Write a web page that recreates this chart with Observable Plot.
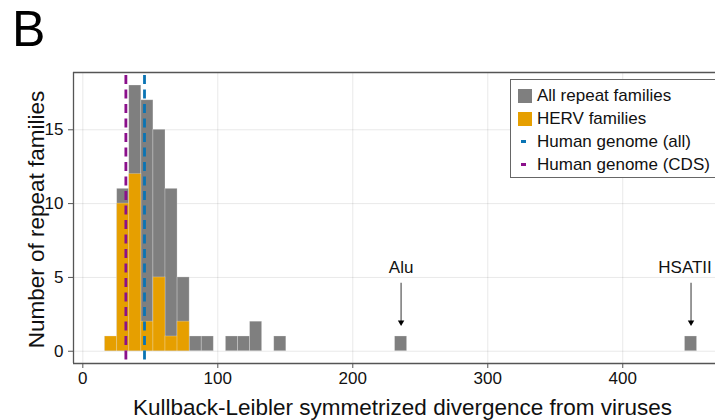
<!DOCTYPE html>
<html>
<head>
<meta charset="utf-8">
<script src="https://cdn.jsdelivr.net/npm/d3@7"></script>
<script src="https://cdn.jsdelivr.net/npm/@observablehq/plot@0.6"></script>
<style>
  html, body { margin: 0; padding: 0; background: #fff; overflow: hidden; }
  #wrap { position: relative; width: 715px; height: 420px; font-family: "Liberation Sans", Arial, sans-serif; }
  #panel { position: absolute; left: 12px; top: 4px; font-size: 50px; line-height: 1; color: #000; }
  #legend { position: absolute; left: 510px; top: 79px; width: 215px; height: 99px; box-sizing: border-box;
            border: 1px solid #666; background: #fff; padding-top: 4px; font-size: 17px; color: #111; }
  .row { height: 23px; display: flex; align-items: center; }
  .mk { display: flex; align-items: center; justify-content: flex-start; padding-left: 7px; box-sizing: border-box; margin-right: 5px; width: 21px; }
</style>
</head>
<body>
<div id="wrap">
  <div id="chart"></div>
  <div id="panel">B</div>
  <div id="legend"></div>
</div>
<script>
// ---- data ----
const binStart = 16.5;     // left edge of first histogram bin
const binWidth = 8.95;     // histogram bin width
const allCounts = [1, 11, 18, 17, 15, 11, 5, 1, 1, 0, 1, 1, 2, 0, 1, 0, 0, 0, 0, 0, 0, 0, 0, 0, 1,
                   0, 0, 0, 0, 0, 0, 0, 0, 0, 0, 0, 0, 0, 0, 0, 0, 0, 0, 0, 0, 0, 0, 0, 1];
const hervCounts = [1, 10, 12, 2, 5, 1, 2];
const genomeAll = 45.7;
const genomeCDS = 31.9;
const annotationLabels = ["Alu", "HSATII"];
const annotationBins = [24, 48];
const xTicks = [0, 100, 200, 300, 400];
const yTicks = [0, 5, 10, 15];
const legendLabels = ["All repeat families", "HERV families", "Human genome (all)", "Human genome (CDS)"];
const legendKinds = ["box", "box", "dash", "dash"];
const legendColors = ["#7f7f7f", "#e69f00", "#0a74b4", "#8b108b"];

// ---- derived tables ----
const toBins = counts => counts.map((c, i) => ({x1: binStart + i * binWidth, x2: binStart + (i + 1) * binWidth, count: c}))
                               .filter(d => d.count > 0);
const allBins = toBins(allCounts);
const hervBins = toBins(hervCounts);
const ann = annotationLabels.map((label, i) => ({label, x: binStart + (annotationBins[i] + 0.5) * binWidth}));

const xDomain = [-6.9, 468.7];
const yDomain = [-0.83, 18.88];

const chart = Plot.plot({
  width: 715, height: 420,
  marginTop: 72, marginLeft: 73, marginRight: 0, marginBottom: 57,
  x: {domain: xDomain},
  y: {domain: yDomain},
  style: {fontFamily: "'Liberation Sans', Arial, sans-serif", fontSize: "17px", background: "white", color: "#111"},
  marks: [
    Plot.ruleX(xTicks, {stroke: "#000", strokeOpacity: 0.09}),
    Plot.ruleY(yTicks, {stroke: "#000", strokeOpacity: 0.09}),
    Plot.rect(allBins, {x1: "x1", x2: "x2", y1: 0, y2: "count", fill: legendColors[0], stroke: "#fff", strokeOpacity: 0.3, strokeWidth: 0.8}),
    Plot.rect(hervBins, {x1: "x1", x2: "x2", y1: 0, y2: "count", fill: legendColors[1], stroke: "#fff", strokeOpacity: 0.3, strokeWidth: 0.8}),
    Plot.ruleX([genomeAll], {stroke: legendColors[2], strokeWidth: 2.8, strokeDasharray: "9,5.5", strokeDashoffset: -3}),
    Plot.ruleX([genomeCDS], {stroke: legendColors[3], strokeWidth: 2.8, strokeDasharray: "9,5.5", strokeDashoffset: -3}),
    // annotations
    Plot.text([ann[0]], {x: "x", y: 5.65, text: "label", fontSize: 17, fill: "#111", lineAnchor: "middle"}),
    Plot.text([ann[1]], {x: "x", y: 5.65, text: "label", fontSize: 17, fill: "#111", lineAnchor: "middle", dx: -6}),
    Plot.ruleX(ann, {x: "x", y1: 4.6, y2: 1.95, stroke: "#555", strokeWidth: 1.2}),
    Plot.dot(ann, {x: "x", y: 1.76, symbol: "triangle", r: 2.4, fill: "#000", stroke: "none", rotate: 180, dy: -3}),
    // frame (top, bottom, left)
    Plot.ruleY([yDomain[1]], {stroke: "#555", strokeWidth: 1.3}),
    Plot.ruleY([yDomain[0]], {stroke: "#555", strokeWidth: 1.3}),
    Plot.ruleX([xDomain[0]], {stroke: "#555", strokeWidth: 1.3}),
    // axes
    Plot.axisX(xTicks, {tickSize: 5, tickPadding: 3, label: null, stroke: "#555"}),
    Plot.axisY(yTicks, {tickSize: 5, tickPadding: 5, label: null, stroke: "#555"}),
    // axis titles
    Plot.text(["Kullback-Leibler symmetrized divergence from viruses"], {frameAnchor: "bottom", textAnchor: "middle", dx: 8, dy: 44, fontSize: 22.5, lineAnchor: "middle", fill: "#111"}),
    Plot.text(["Number of repeat families"], {frameAnchor: "left", textAnchor: "middle", dx: -37, dy: 1.5, rotate: -90, fontSize: 22.5, lineAnchor: "middle", fill: "#111"})
  ]
});
document.getElementById("chart").appendChild(chart);

// legend
const legend = document.getElementById("legend");
legendLabels.forEach((label, i) => {
  const row = document.createElement("div");
  row.className = "row";
  const mk = document.createElement("div");
  mk.className = "mk";
  const sw = document.createElement("div");
  if (legendKinds[i] === "box") {
    sw.style.cssText = `width:14px;height:14px;background:${legendColors[i]}`;
  } else {
    sw.style.cssText = `width:5px;height:2.6px;margin-left:3px;background:${legendColors[i]}`;
  }
  mk.appendChild(sw);
  const tx = document.createElement("span");
  tx.textContent = label;
  row.appendChild(mk);
  row.appendChild(tx);
  legend.appendChild(row);
});
</script>
</body>
</html>
